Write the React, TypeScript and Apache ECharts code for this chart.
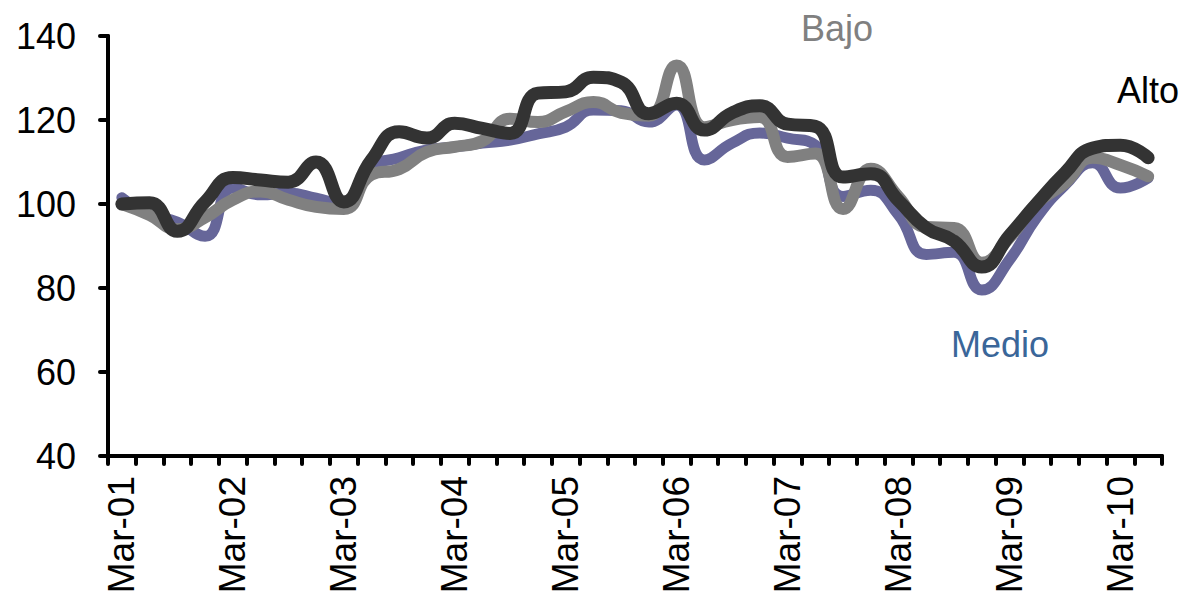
import React, { useEffect, useRef } from "react";
import * as echarts from "echarts";

const categories = [
  "Mar-01", "Jun-01", "Sep-01", "Dec-01",
  "Mar-02", "Jun-02", "Sep-02", "Dec-02",
  "Mar-03", "Jun-03", "Sep-03", "Dec-03",
  "Mar-04", "Jun-04", "Sep-04", "Dec-04",
  "Mar-05", "Jun-05", "Sep-05", "Dec-05",
  "Mar-06", "Jun-06", "Sep-06", "Dec-06",
  "Mar-07", "Jun-07", "Sep-07", "Dec-07",
  "Mar-08", "Jun-08", "Sep-08", "Dec-08",
  "Mar-09", "Jun-09", "Sep-09", "Dec-09",
  "Mar-10", "Jun-10",
];

const alto = [
  100, 100.3, 93.5, 100.5, 106.3, 105.7, 105.2, 110, 100.5, 110.5,
  117.2, 115.7, 119.2, 118, 116.8, 126.4, 126.7, 130.2, 129, 121.5,
  124, 117.6, 121.7, 123.4, 119, 118.5, 106.4, 107.2, 100.8, 94.3,
  91.2, 85, 92.5, 100.2, 107.4, 113.3, 114, 111,
];

const bajo = [
  100, 97.4, 94, 96.8, 101, 103, 101, 99.3, 98.8, 107,
  108.3, 112.4, 113.6, 115, 120.3, 119.5, 122, 124.3, 121.7, 121,
  133, 118.3, 120, 120.7, 111.2, 112, 98.8, 108.4, 101.7, 94.5,
  94.3, 86, 92, 100.2, 105, 111, 109.3, 106.6,
];

const medio = [
  101.5, 97.5, 95.7, 92.3, 103.8, 102.2, 102.6, 101.4, 100, 108.8,
  111, 112.9, 113.6, 114.5, 115.2, 116.7, 118.3, 122.4, 122.2, 119.5,
  123.6, 110.5, 114.5, 116.9, 115.7, 114, 101.8, 103.3, 97.4, 88,
  88.5, 79.5, 86.7, 97, 104.5, 109.8, 103.8, 106.2,
];

const FONT = "'Liberation Sans', Arial, sans-serif";

export default function App() {
  const ref = useRef<HTMLDivElement>(null);

  useEffect(() => {
    if (!ref.current) return;
    const chart = echarts.init(ref.current, undefined, { renderer: "svg" });
    const lineCommon = {
      type: "line" as const,
      smooth: 0.5,
      showSymbol: false,
      symbol: "none",
    };
    chart.setOption({
      animation: false,
      backgroundColor: "#ffffff",
      grid: { left: 108, right: 20, top: 36, bottom: 150, containLabel: false },
      xAxis: {
        type: "category",
        data: categories,
        boundaryGap: true,
        axisLine: { lineStyle: { color: "#000", width: 4, cap: "round" } },
        axisTick: {
          show: true,
          interval: 0,
          length: 8,
          lineStyle: { color: "#000", width: 4, cap: "round" },
        },
        axisLabel: {
          interval: 3,
          rotate: 90,
          margin: 20,
          color: "#000",
          fontSize: 37,
          fontFamily: FONT,
        },
        splitLine: { show: false },
      },
      yAxis: {
        type: "value",
        min: 40,
        max: 140,
        interval: 20,
        axisLine: { show: true, lineStyle: { color: "#000", width: 4, cap: "round" } },
        axisTick: {
          show: true,
          length: 8,
          lineStyle: { color: "#000", width: 4, cap: "round" },
        },
        axisLabel: {
          margin: 32,
          color: "#000",
          fontSize: 36,
          fontFamily: FONT,
        },
        splitLine: { show: false },
      },
      series: [
        {
          ...lineCommon,
          name: "Medio",
          data: medio,
          lineStyle: { color: "#666699", width: 11, cap: "round", join: "round" },
          z: 2,
        },
        {
          ...lineCommon,
          name: "Bajo",
          data: bajo,
          lineStyle: { color: "#808080", width: 12, cap: "round", join: "round" },
          z: 3,
        },
        {
          ...lineCommon,
          name: "Alto",
          data: alto,
          lineStyle: { color: "#333333", width: 13, cap: "round", join: "round" },
          z: 4,
        },
      ],
      graphic: [
        {
          type: "text",
          x: 837,
          y: 28,
          style: {
            text: "Bajo",
            fill: "#808080",
            font: `36px ${FONT}`,
            textAlign: "center",
            textVerticalAlign: "middle",
          },
        },
        {
          type: "text",
          x: 1148,
          y: 90,
          style: {
            text: "Alto",
            fill: "#000000",
            font: `36px ${FONT}`,
            textAlign: "center",
            textVerticalAlign: "middle",
          },
        },
        {
          type: "text",
          x: 1000,
          y: 344,
          style: {
            text: "Medio",
            fill: "#3A6699",
            font: `36px ${FONT}`,
            textAlign: "center",
            textVerticalAlign: "middle",
          },
        },
      ],
    });
    return () => chart.dispose();
  }, []);

  return (
    <div
      ref={ref}
      style={{ position: "fixed", left: 0, top: 0, width: 1182, height: 606 }}
    />
  );
}
